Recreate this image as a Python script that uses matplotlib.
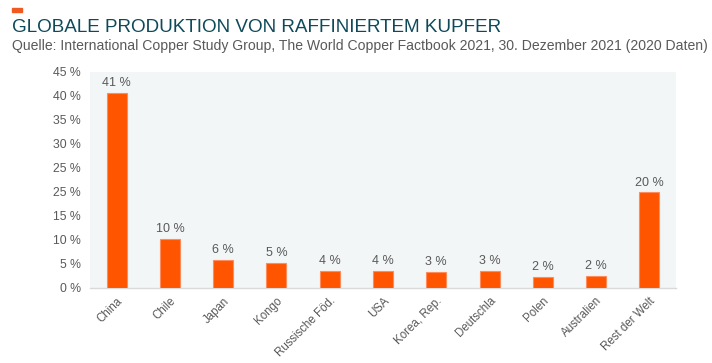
import matplotlib
matplotlib.use("Agg")
import matplotlib.pyplot as plt
from matplotlib.patches import Rectangle

categories = ["China", "Chile", "Japan", "Kongo", "Russische Föd.", "USA", "Korea, Rep.",
              "Deutschla", "Polen", "Australien", "Rest der Welt"]
values = [40.6, 10.2, 5.8, 5.2, 3.6, 3.5, 3.3, 3.5, 2.35, 2.6, 19.9]
value_labels = ["41 %", "10 %", "6 %", "5 %", "4 %", "4 %", "3 %", "3 %", "2 %", "2 %", "20 %"]
ytick_values = [0, 5, 10, 15, 20, 25, 30, 35, 40, 45]
ytick_labels = ["0 %", "5 %", "10 %", "15 %", "25 %", "25 %", "30 %", "35 %", "40 %", "45 %"]
title = "GLOBALE PRODUKTION VON RAFFINIERTEM KUPFER"
subtitle = "Quelle: International Copper Study Group, The World Copper Factbook 2021, 30. Dezember 2021 (2020 Daten)"

plt.rcParams["font.family"] = ["Liberation Sans", "DejaVu Sans"]

W, H = 712, 363
fig = plt.figure(figsize=(W / 100, H / 100), dpi=100)
ax = fig.add_axes([90 / W, 1 - 288 / H, (676 - 90) / W, (288 - 72) / H])
ax.set_facecolor("#f2f6f7")

grey = "#595959"
x = list(range(len(categories)))
bars = ax.bar(x, values, width=0.375, color="#ff5500", edgecolor="#ff8c5a", linewidth=0.8, zorder=3)
for xi, v, lab in zip(x, values, value_labels):
    ax.text(xi, v + 0.8, lab, ha="center", va="bottom", fontsize=9, color=grey)

ax.set_xlim(-0.5, len(categories) - 0.5)
ax.set_ylim(0, 45)
ax.set_yticks(ytick_values)
ax.set_yticklabels(ytick_labels, fontsize=8.8, color=grey)
ax.set_xticks(x)
ax.set_xticklabels(categories, rotation=45, ha="right", rotation_mode="anchor", fontsize=8.3, color=grey)
ax.tick_params(axis="x", length=0, pad=5)
ax.tick_params(axis="y", length=0, pad=6.5)
for s in ["top", "right", "left"]:
    ax.spines[s].set_visible(False)
ax.spines["bottom"].set_color("#d9d9d9")
ax.spines["bottom"].set_linewidth(1.0)

fig.patches.append(Rectangle((12 / W, 1 - 12 / H), 10 / W, 4.5 / H, transform=fig.transFigure,
                             color="#f05a22", figure=fig))
fig.text(12 / W, 1 - 27 / H, title, fontsize=13.6, color="#0e4a5a", va="center", ha="left")
fig.text(12 / W, 1 - 46 / H, subtitle, fontsize=10.1, color=grey, va="center", ha="left")

fig.savefig("out.png", dpi=100, facecolor="white")
